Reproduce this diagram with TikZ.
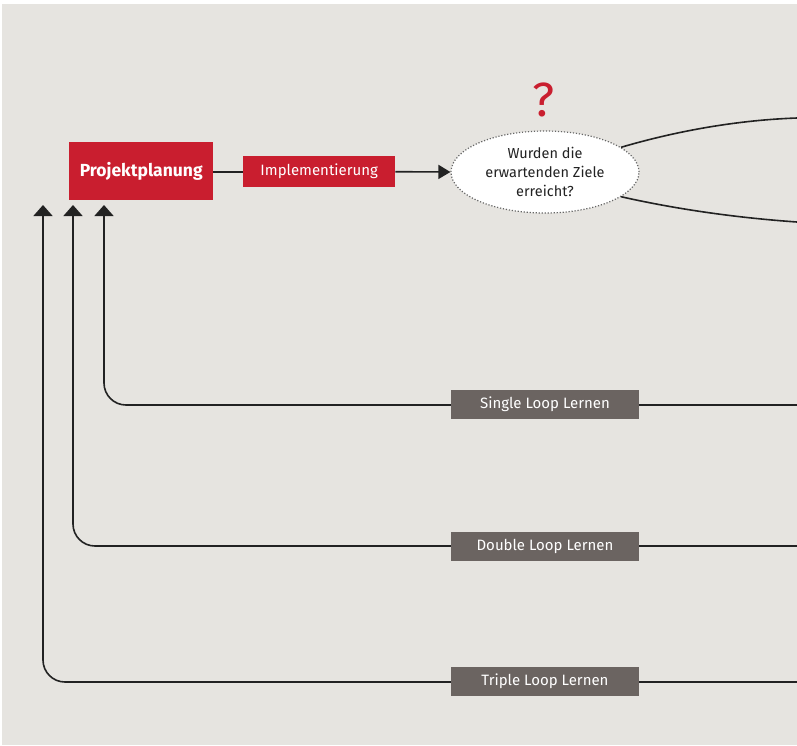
\documentclass[tikz,border=0pt]{standalone}
\usepackage{fontspec}
\setmainfont{Fira Sans}
\usetikzlibrary{arrows.meta,shapes.geometric}
\definecolor{bg}{HTML}{E6E4E0}
\definecolor{dbred}{HTML}{C91E2F}
\definecolor{boxgray}{HTML}{6B6461}
\definecolor{linec}{HTML}{222222}
\definecolor{dotc}{HTML}{666666}
\begin{document}
\begin{tikzpicture}[x=1pt,y=-1pt,
  redbox/.style={fill=dbred,text=white,inner sep=0pt,anchor=north west},
  graybox/.style={fill=boxgray,text=white,inner sep=0pt,minimum width=188pt,minimum height=29pt,font=\fontsize{15}{18}\selectfont},
  conn/.style={draw=linec,line width=1.6pt},
  tip/.style={-{Triangle[length=11pt,width=19pt]}},
  smalltip/.style={-{Triangle[length=12pt,width=14pt]}}]
\useasboundingbox (0,0) rectangle (797,745);
\fill[white] (0,0) rectangle (797,745);
\fill[bg] (2,4) rectangle (797,745);
% nodes
\node[redbox,minimum width=144pt,minimum height=58pt,font=\fontsize{17.5}{20}\bfseries\selectfont] (plan) at (69,142) {Projektplanung};
\node[redbox,minimum width=152pt,minimum height=31pt,font=\fontsize{15}{18}\selectfont] (impl) at (243,156) {Implementierung};
\node[ellipse,fill=white,draw=dotc,dash pattern=on 1.2pt off 1.8pt,line width=1.2pt,minimum width=188pt,minimum height=82pt,inner sep=0pt,align=center,font=\fontsize{14.5}{19}\selectfont,text=linec] (q) at (545,172) {Wurden die\\erwartenden Ziele\\erreicht?};
\node[text=dbred,font=\fontsize{48}{48}\selectfont,inner sep=0pt] (qm) at (544,100) {?};
\node[graybox] (sl) at (545,404) {Single Loop Lernen};
\node[graybox] (dl) at (545,546) {Double Loop Lernen};
\node[graybox] (tl) at (545,681) {Triple Loop Lernen};
% free ends
\coordinate (a1) at (104,205);
\coordinate (a2) at (73,205);
\coordinate (a3) at (43,205);
\coordinate (r1) at (797,405);
\coordinate (r2) at (797,546);
\coordinate (r3) at (797,682);
\coordinate (cu) at (797,118);
\coordinate (cd) at (797,222);
% connectors
\draw[conn] (plan.east |- impl.west) -- (impl.west);
\draw[conn,smalltip] (impl.east) -- (q.west);
\draw[conn] (q.18) .. controls (680,130) and (740,120) .. (cu);
\draw[conn] (q.-18) .. controls (680,210) and (740,218) .. (cd);
\draw[conn,rounded corners=22pt,tip] (r1) -- (104,405) -- (a1);
\draw[conn,rounded corners=22pt,tip] (r2) -- (73,546) -- (a2);
\draw[conn,rounded corners=22pt,tip] (r3) -- (43,682) -- (a3);
% redraw boxes on top
\node[graybox] at (545,404) {Single Loop Lernen};
\node[graybox] at (545,546) {Double Loop Lernen};
\node[graybox] at (545,681) {Triple Loop Lernen};
\end{tikzpicture}
\end{document}
